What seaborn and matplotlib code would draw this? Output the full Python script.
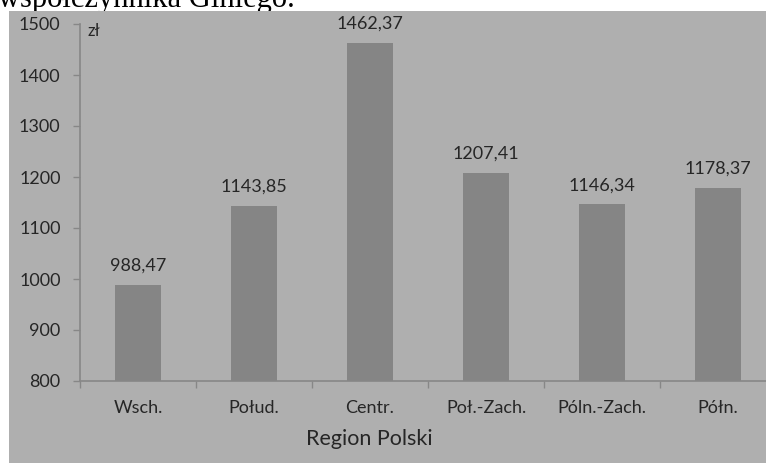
import matplotlib
matplotlib.use('Agg')
import matplotlib.pyplot as plt
from matplotlib.patches import Rectangle
import seaborn as sns
import pandas as pd

# Dane: przeciętny dochód wg regionu
regiony = ['Wsch.', 'Połud.', 'Centr.', 'Poł.-Zach.', 'Póln.-Zach.', 'Półn.']
dochod = [988.47, 1143.85, 1462.37, 1207.41, 1146.34, 1178.37]
y_ticks = [800, 900, 1000, 1100, 1200, 1300, 1400, 1500]

df = pd.DataFrame({'Region': regiony, 'Dochod': dochod})

sns.set_style('white')
plt.rcParams['font.family'] = ['Lato', 'DejaVu Sans']

tlo = '#afafaf'
slupek = '#858585'
os_kolor = '#878787'

W, H = 766, 463
fig = plt.figure(figsize=(W / 100, H / 100), dpi=100, facecolor='white')

# szare tlo wykresu (wykres wyciety z dokumentu, przykrywa tekst)
fig.patches.append(Rectangle((9 / W, 0), 1, (H - 11) / H, transform=fig.transFigure,
                             facecolor=tlo, edgecolor='none', zorder=-5))

# fragment tekstu z dokumentu nad wykresem
fig.text(-2 / W, 1 - 7 / H, 'współczynnika Giniego.', family='Liberation Serif',
         fontsize=22, va='baseline', ha='left', color='black', zorder=-6)

ax = fig.add_axes([80 / W, (H - 381) / H, 696 / W, (381 - 24) / H])
ax.set_facecolor('none')
ax.set_zorder(2)

sns.barplot(data=df, x='Region', y='Dochod', color=slupek, width=0.4,
            saturation=1, edgecolor='none', linewidth=0, ax=ax)

ax.set_ylim(800, 1500)
ax.set_xlim(-0.5, len(regiony) - 0.5)
ax.set_yticks(y_ticks)
ax.set_yticklabels([str(v) for v in y_ticks], fontsize=13)

# etykiety wartosci z przecinkiem dziesietnym
etykiety = [f'{v:.2f}'.replace('.', ',') for v in dochod]
ax.bar_label(ax.containers[0], labels=etykiety, padding=8, fontsize=13)

for s in ['top', 'right']:
    ax.spines[s].set_visible(False)
for s in ['left', 'bottom']:
    ax.spines[s].set_color(os_kolor)
    ax.spines[s].set_linewidth(1.2)

ax.tick_params(axis='y', direction='out', length=5, width=1, color=os_kolor,
               pad=9, left=True)
ax.set_xticks(range(len(regiony)))
ax.set_xticklabels(regiony, fontsize=13)
ax.set_xticks([i - 0.5 for i in range(len(regiony) + 1)], minor=True)
ax.tick_params(axis='x', which='major', length=0, pad=14)
ax.tick_params(axis='x', which='minor', direction='out', length=5, width=1,
               color=os_kolor, bottom=True)

ax.set_xlabel('Region Polski', fontsize=15.5)
ax.xaxis.set_label_coords((369 - 80) / 696, -(439 - 381) / 357)
ax.xaxis.label.set_va('center')
ax.set_ylabel('')

ax.text(8 / 696, 1 + 1 / 357, 'zł', transform=ax.transAxes, fontsize=12,
        ha='left', va='top')

fig.savefig('out.png', dpi=100, facecolor='white')
